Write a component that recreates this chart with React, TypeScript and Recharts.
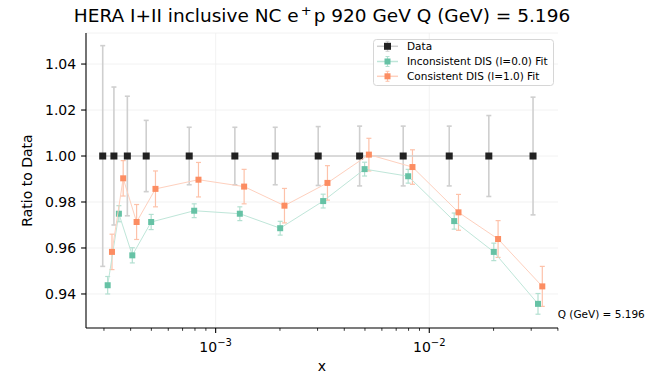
import React from 'react';
import {
  ComposedChart,
  Scatter,
  XAxis,
  YAxis,
  CartesianGrid,
  ErrorBar,
  ReferenceLine,
} from 'recharts';

const W = 652;
const H = 374;
const FONT = '"DejaVu Sans", "Liberation Sans", sans-serif';

// Bjorken-x of each measured point
const xPoints = [
  2.96e-4, 3.34e-4, 3.86e-4, 4.73e-4, 7.52e-4, 1.23e-3, 1.9e-3, 3.02e-3,
  4.72e-3, 7.55e-3, 1.24e-2, 1.9e-2, 3.06e-2,
];

// Data / Data ratio and relative data uncertainty
const dataRatio = [1, 1, 1, 1, 1, 1, 1, 1, 1, 1, 1, 1, 1];
const dataErr = [
  0.048, 0.03, 0.026, 0.0155, 0.0125, 0.0125, 0.0125, 0.0128, 0.013, 0.013,
  0.013, 0.0176, 0.0256,
];

// Inconsistent DIS (l=0.0) fit over data
const inconsistentRatio = [
  0.9438, 0.9749, 0.9568, 0.9713, 0.9762, 0.9749, 0.9686, 0.9804, 0.9943,
  0.9912, 0.9717, 0.9583, 0.9357,
];
const inconsistentErr = [
  0.0038, 0.0035, 0.0033, 0.0033, 0.003, 0.003, 0.003, 0.003, 0.003, 0.003,
  0.0035, 0.0038, 0.0045,
];

// Consistent DIS (l=1.0) fit over data
const consistentRatio = [
  0.9583, 0.9903, 0.9713, 0.9857, 0.9897, 0.9867, 0.9784, 0.9883, 1.0006,
  0.9952, 0.9755, 0.9639, 0.9433,
];
const consistentErr = [
  0.0077, 0.0077, 0.0076, 0.0078, 0.0075, 0.0075, 0.0075, 0.0075, 0.0071,
  0.0075, 0.0078, 0.008, 0.0087,
];

// small multiplicative x offsets so the three series do not overlap
const INCONSISTENT_SHIFT = 1.055;
const CONSISTENT_SHIFT = 1.105;

const xMajorTicks = [1e-3, 1e-2];
const xMinorTicks = [
  3e-4, 4e-4, 5e-4, 6e-4, 7e-4, 8e-4, 9e-4, 2e-3, 3e-3, 4e-3, 5e-3, 6e-3,
  7e-3, 8e-3, 9e-3, 2e-2, 3e-2, 4e-2,
];
const yTicks = [0.94, 0.96, 0.98, 1.0, 1.02, 1.04];

const X_DOMAIN: [number, number] = [2.472e-4, 4.005e-2];
const Y_DOMAIN: [number, number] = [0.9252, 1.0535];

const TITLE_MAIN = 'HERA I+II inclusive NC e';
const TITLE_SUP = '+';
const TITLE_REST = 'p 920 GeV Q (GeV) = 5.196';
const Q_NOTE = 'Q (GeV) = 5.196';

const COLORS = {
  data: '#222222',
  dataLine: '#cfcfcf',
  inconsistent: '#66c2a5',
  inconsistentLine: '#bfe6d9',
  consistent: '#fc8d62',
  consistentLine: '#fed0be',
  consistentErr: '#fdc2aa',
  inconsistentErr: '#b3e0d1',
};

const SERIES = [
  { name: 'Data', color: COLORS.data, line: COLORS.dataLine, err: COLORS.dataLine, size: 7 },
  {
    name: 'Inconsistent DIS (l=0.0) Fit',
    color: COLORS.inconsistent,
    line: COLORS.inconsistentLine,
    err: COLORS.inconsistentErr,
    size: 6,
  },
  {
    name: 'Consistent DIS (l=1.0) Fit',
    color: COLORS.consistent,
    line: COLORS.consistentLine,
    err: COLORS.consistentErr,
    size: 6,
  },
];

const buildRows = (vals: number[], errs: number[], shift: number) =>
  xPoints.map((x, i) => ({ x: x * shift, y: vals[i], err: errs[i] }));

const dataRows = buildRows(dataRatio, dataErr, 1);
const inconsistentRows = buildRows(inconsistentRatio, inconsistentErr, INCONSISTENT_SHIFT);
const consistentRows = buildRows(consistentRatio, consistentErr, CONSISTENT_SHIFT);

const squareShape = (size: number, color: string) => (p: any) => {
  if (p.cx == null || p.cy == null) return <g />;
  return (
    <rect x={p.cx - size / 2} y={p.cy - size / 2} width={size} height={size} fill={color} />
  );
};

const XTick = (props: any) => {
  const { x, y, payload } = props;
  const v = payload.value;
  const isMajor = xMajorTicks.some((m) => Math.abs(m - v) / m < 1e-9);
  if (!isMajor) {
    return <line x1={x} x2={x} y1={y} y2={y + 2.8} stroke="#000" strokeWidth={0.8} />;
  }
  const exp = Math.round(Math.log10(v));
  return (
    <g>
      <line x1={x} x2={x} y1={y} y2={y + 4.9} stroke="#000" strokeWidth={1.1} />
      <text x={x} y={y + 23.7} textAnchor="middle" fontFamily={FONT} fontSize={14} fill="#000">
        10
        <tspan dy={-6} fontSize={10}>{`\u2212${Math.abs(exp)}`}</tspan>
      </text>
    </g>
  );
};

const LegendHandle = ({ y, s }: { y: number; s: (typeof SERIES)[number] }) => (
  <g>
    <line x1={377} x2={398} y1={y} y2={y} stroke={s.line} strokeWidth={1.5} />
    <line x1={387.5} x2={387.5} y1={y - 5} y2={y + 5} stroke={s.err} strokeWidth={1.2} />
    <line x1={385.5} x2={389.5} y1={y - 5} y2={y - 5} stroke={s.err} strokeWidth={1} />
    <line x1={385.5} x2={389.5} y1={y + 5} y2={y + 5} stroke={s.err} strokeWidth={1} />
    <rect x={387.5 - s.size / 2} y={y - s.size / 2} width={s.size} height={s.size} fill={s.color} />
  </g>
);

export default function App() {
  const legendRows = [46.3, 61.5, 76.3];
  return (
    <div style={{ position: 'absolute', left: 0, top: 0, width: W, height: H, background: '#fff' }}>
      <ComposedChart
        width={W}
        height={H}
        margin={{ top: 33, right: 94, bottom: 0, left: 0 }}
      >
        <CartesianGrid vertical={false} stroke="#efefef" strokeWidth={0.8} />
        <ReferenceLine x={xMajorTicks[0]} stroke="#efefef" strokeWidth={0.8} />
        <ReferenceLine x={xMajorTicks[1]} stroke="#efefef" strokeWidth={0.8} />
        <XAxis
          dataKey="x"
          type="number"
          scale="log"
          domain={X_DOMAIN}
          allowDataOverflow
          ticks={[...xMinorTicks, ...xMajorTicks].sort((a, b) => a - b)}
          interval={0}
          tick={<XTick />}
          tickLine={false}
          tickSize={0}
          tickMargin={0}
          height={46}
          axisLine={{ stroke: '#000', strokeWidth: 1.1 }}
        />
        <YAxis
          dataKey="y"
          type="number"
          domain={Y_DOMAIN}
          allowDataOverflow
          ticks={yTicks}
          interval={0}
          tickFormatter={(v: number) => v.toFixed(2)}
          width={86}
          tickSize={4.9}
          tickMargin={4.9}
          tick={{ fontSize: 14, fill: '#000', fontFamily: FONT }}
          tickLine={{ stroke: '#000', strokeWidth: 1.1 }}
          axisLine={{ stroke: '#000', strokeWidth: 1.1 }}
        />
        <Scatter
          name={SERIES[0].name}
          data={dataRows}
          isAnimationActive={false}
          line={{ stroke: SERIES[0].line, strokeWidth: 1.6 }}
          lineType="joint"
          shape={squareShape(SERIES[0].size, SERIES[0].color)}
        >
          <ErrorBar dataKey="err" direction="y" width={2.5} stroke={SERIES[0].err} strokeWidth={1.6} />
        </Scatter>
        <Scatter
          name={SERIES[1].name}
          data={inconsistentRows}
          isAnimationActive={false}
          line={{ stroke: SERIES[1].line, strokeWidth: 1 }}
          lineType="joint"
          shape={squareShape(SERIES[1].size, SERIES[1].color)}
        >
          <ErrorBar dataKey="err" direction="y" width={2.5} stroke={SERIES[1].err} strokeWidth={1.2} />
        </Scatter>
        <Scatter
          name={SERIES[2].name}
          data={consistentRows}
          isAnimationActive={false}
          line={{ stroke: SERIES[2].line, strokeWidth: 1 }}
          lineType="joint"
          shape={squareShape(SERIES[2].size, SERIES[2].color)}
        >
          <ErrorBar dataKey="err" direction="y" width={2.5} stroke={SERIES[2].err} strokeWidth={1.2} />
        </Scatter>
      </ComposedChart>

      <svg
        width={W}
        height={H}
        style={{ position: 'absolute', left: 0, top: 0, pointerEvents: 'none' }}
      >
        <text x={322} y={22} textAnchor="middle" fontFamily={FONT} fontSize={18.5} fill="#000">
          {TITLE_MAIN}
          <tspan dx={2} dy={-7} fontSize={13}>{TITLE_SUP}</tspan>
          <tspan dx={2} dy={7}>{TITLE_REST}</tspan>
        </text>
        <text
          x={0}
          y={0}
          transform="translate(27,180.5) rotate(-90)"
          textAnchor="middle"
          dominantBaseline="central"
          fontFamily={FONT}
          fontSize={14}
          fill="#000"
        >
          Ratio to Data
        </text>
        <text x={322} y={370.5} textAnchor="middle" fontFamily={FONT} fontSize={14} fill="#000">
          x
        </text>
        <text x={557.7} y={317.8} fontFamily={FONT} fontSize={10.5} fill="#000">
          {Q_NOTE}
        </text>

        <rect
          x={373.5}
          y={39.5}
          width={180}
          height={46}
          rx={3}
          fill="#fff"
          fillOpacity={0.8}
          stroke="#d6d6d6"
          strokeWidth={1}
        />
        {SERIES.map((s, i) => (
          <g key={s.name}>
            <LegendHandle y={legendRows[i]} s={s} />
            <text
              x={407}
              y={legendRows[i] + 3.8}
              fontFamily={FONT}
              fontSize={10.5}
              fill="#000"
            >
              {s.name}
            </text>
          </g>
        ))}
      </svg>
    </div>
  );
}
